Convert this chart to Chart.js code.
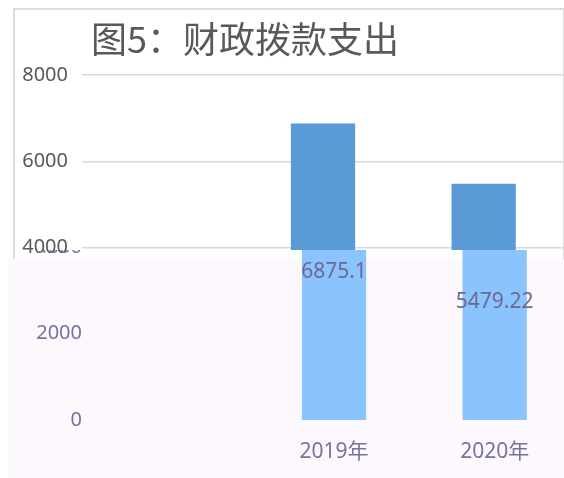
<!DOCTYPE html>
<html>
<head>
<meta charset="utf-8">
<script src="https://cdn.jsdelivr.net/npm/chart.js@4.4.0/dist/chart.umd.min.js"></script>
<style>
	body { margin: 0; background: #fff; }
	#topPart { position: absolute; left: 0; top: 0; width: 564px; height: 259px; overflow: hidden; background: #fff; }
	#frame { position: absolute; left: 13px; top: 8px; width: 548px; height: 300px; border: 2px solid #dcdcdc; }
	#c1 { position: absolute; left: 0; top: 0; }
	#bottomPart { position: absolute; left: 8px; top: 250px; width: 556px; height: 228px; overflow: hidden;
		background: linear-gradient(to bottom, transparent 0, transparent 9px, #fcf8fd 9px); }
	#c2 { position: absolute; left: -8px; top: -250px; }
</style>
</head>
<body>
<div id="topPart">
	<div id="frame"></div>
	<canvas id="c1" width="568" height="478"></canvas>
</div>
<div id="bottomPart">
	<canvas id="c2" width="594" height="478"></canvas>
</div>
<script>
// 데이터
const titleText = '图5：财政拨款支出';
const categories = ['', '2019年', '2020年'];
const spending = [null, 6875.1, 5479.22];
const yTicks = [0, 2000, 4000, 6000, 8000];

const FONT = "'Noto Sans', 'Noto Sans CJK SC', sans-serif";

// 제목 그리기 (위쪽 차트만)
const titlePlugin = {
	id: 'titleText',
	afterDraw(chart) {
		const ctx = chart.ctx;
		ctx.save();
		ctx.font = "36px 'Noto Sans CJK SC'";
		ctx.fillStyle = '#595959';
		ctx.textBaseline = 'middle';
		ctx.fillText(titleText, 91, 39);
		ctx.restore();
	}
};

// 막대 가운데에 값 표시 (아래쪽 차트)
const valueLabelPlugin = {
	id: 'valueLabels',
	afterDatasetsDraw(chart) {
		const ctx = chart.ctx;
		const meta = chart.getDatasetMeta(0);
		ctx.save();
		ctx.font = '21px ' + FONT;
		ctx.fillStyle = '#6d6991';
		ctx.textAlign = 'center';
		ctx.textBaseline = 'middle';
		meta.data.forEach((bar, i) => {
			const v = spending[i];
			if (v == null) return;
			const p = bar.getCenterPoint();
			ctx.fillText(String(v), p.x, p.y);
		});
		ctx.restore();
	}
};

function makeChart(id, opt) {
	return new Chart(document.getElementById(id), {
		type: 'bar',
		data: {
			labels: categories,
			datasets: [{
				data: spending,
				backgroundColor: opt.barColor,
				categoryPercentage: 1,
				barPercentage: 0.4,
				clip: opt.clip
			}]
		},
		options: {
			responsive: false,
			animation: false,
			layout: { padding: { top: 75, right: opt.padRight, bottom: 0, left: 0 } },
			plugins: { legend: { display: false }, tooltip: { enabled: false } },
			scales: {
				x: {
					grid: { display: false, drawTicks: false },
					border: { display: false },
					ticks: { display: opt.showX, color: opt.textColor, font: { size: 21, family: FONT }, padding: 19 },
					afterFit: s => { s.height = 58; }
				},
				y: {
					min: 0,
					max: yTicks[yTicks.length - 1],
					afterBuildTicks: s => { s.ticks = yTicks.map(v => ({ value: v })); },
					grid: { display: opt.showGrid, color: '#d9d9d9', lineWidth: 1.5, drawTicks: false },
					border: { display: false },
					ticks: {
						color: opt.textColor,
						font: { size: 20, family: FONT },
						padding: opt.tickPad,
						callback: v => String(v)
					},
					afterFit: s => { s.width = opt.axisWidth; }
				}
			}
		},
		plugins: opt.plugins
	});
}

// 위쪽: 진한 파랑 막대, 4000 선 아래는 잘라냄
makeChart('c1', {
	barColor: '#5b9bd5', textColor: '#595959', showX: false, showGrid: true,
	padRight: 4, axisWidth: 82, tickPad: 14, plugins: [titlePlugin],
	clip: { left: 0, top: 0, right: 0, bottom: -170 }
});

// 아래쪽: 연한 파랑 막대, 약간 오른쪽으로 밀림
makeChart('c2', {
	barColor: '#8ac4ff', textColor: '#7673a0', showX: true, showGrid: false,
	padRight: 19, axisWidth: 93, tickPad: 11, plugins: [valueLabelPlugin],
	clip: false
});
</script>
</body>
</html>
